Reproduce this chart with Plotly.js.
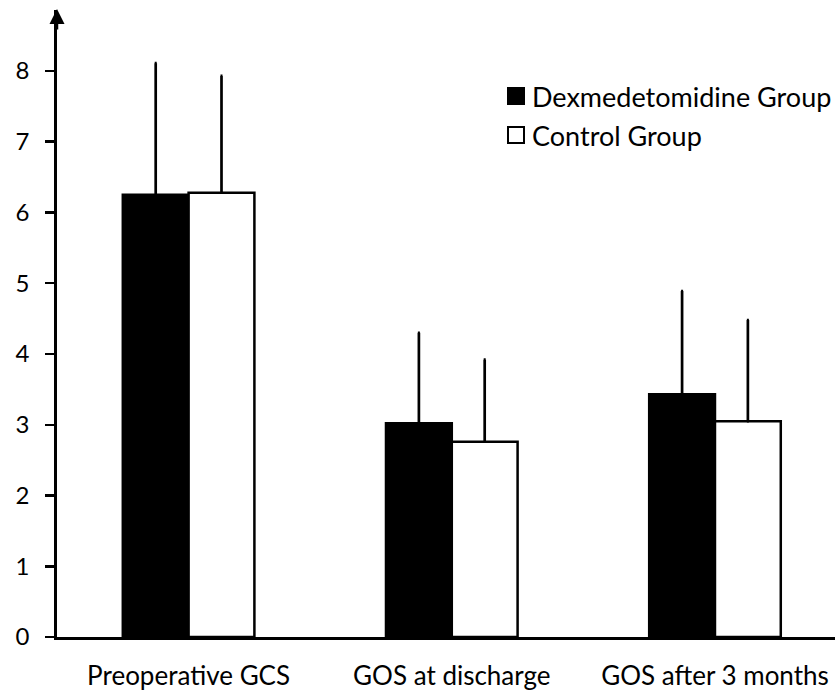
<!DOCTYPE html>
<html>
<head>
<meta charset="utf-8">
<script src="https://cdn.plot.ly/plotly-3.0.1.min.js"></script>
<style>html,body{margin:0;padding:0;background:#fff;}#chart{width:835px;height:690px;}</style>
</head>
<body>
<div id="chart"></div>
<script>
const categories = ["Preoperative GCS", "GOS at discharge", "GOS after 3 months"];
const seriesNames = ["Dexmedetomidine Group", "Control Group"];
const dexMean = [6.25, 3.02, 3.43];
const dexSD = [1.86, 1.28, 1.46];
const ctrlMean = [6.28, 2.76, 3.05];
const ctrlSD = [1.65, 1.16, 1.43];
const yTicks = [0, 1, 2, 3, 4, 5, 6, 7, 8];

const W = 835, H = 690;
const L = 57, R = 0, T = 10, B = 53;
const pw = W - L - R, ph = H - T - B;
const px2x = p => (p - L) / pw;
const py2y = p => (H - B - p) / ph;
const FONT = "Lato, 'Open Sans', sans-serif";

function errs(sd){ return {type:'data', symmetric:false, array: sd, arrayminus: sd.map(()=>0), color:'#000', thickness:2.7, width:1}; }

const traces = [
  {type:'bar', name: seriesNames[0], x: categories, y: dexMean, error_y: errs(dexSD),
   marker:{color:'#000', line:{color:'#000', width:2.5}}, showlegend:false},
  {type:'bar', name: seriesNames[1], x: categories, y: ctrlMean, error_y: errs(ctrlSD),
   marker:{color:'#fff', line:{color:'#000', width:2.5}}, showlegend:false}
];

const legendRows = [
  {name: seriesNames[0], fill:'#000', cy: 96},
  {name: seriesNames[1], fill:'#fff', cy: 135}
];
const shapes = legendRows.map(r => ({
  type:'rect', xref:'paper', yref:'paper',
  x0: px2x(508), x1: px2x(524), y0: py2y(r.cy + 8), y1: py2y(r.cy - 8),
  fillcolor: r.fill, line:{color:'#000', width:2}
}));
const annotations = legendRows.map(r => ({
  xref:'paper', yref:'paper', x: px2x(530), y: py2y(r.cy), xanchor:'left', yanchor:'middle',
  text: r.name, showarrow:false, font:{family:FONT, size:27, color:'#000'}
}));
annotations.push({
  xref:'paper', yref:'paper', x:0, y: py2y(9), ax:0, ay:22, axref:'pixel', ayref:'pixel',
  showarrow:true, arrowhead:2, arrowsize:1.2, arrowwidth:2.5, arrowcolor:'#000', text:'', standoff:0
});

const layout = {
  width: W, height: H,
  margin: {l:L, r:R, t:T, b:B, pad:0},
  paper_bgcolor:'#fff', plot_bgcolor:'#fff',
  barmode:'group', bargap:0.5, bargroupgap:0,
  showlegend:false,
  font:{family:FONT, size:24, color:'#000'},
  xaxis:{range:[-0.5, 2.456], showline:true, linecolor:'#000', linewidth:2.7, ticks:'', showgrid:false,
         zeroline:false, tickfont:{family:FONT, size:26, color:'#000'}, ticklabelstandoff:14, fixedrange:true},
  yaxis:{range:[0, 8.862], showline:true, linecolor:'#000', linewidth:2.7, ticks:'outside', ticklen:9, tickwidth:2.5,
         tickcolor:'#000', tickvals:yTicks, ticktext:yTicks.map(String), showgrid:false, zeroline:false,
         tickfont:{family:FONT, size:24, color:'#000'}, ticklabelstandoff:11, fixedrange:true},
  shapes: shapes,
  annotations: annotations
};
Plotly.newPlot('chart', traces, layout, {staticPlot:true, displayModeBar:false});
</script>
</body>
</html>
